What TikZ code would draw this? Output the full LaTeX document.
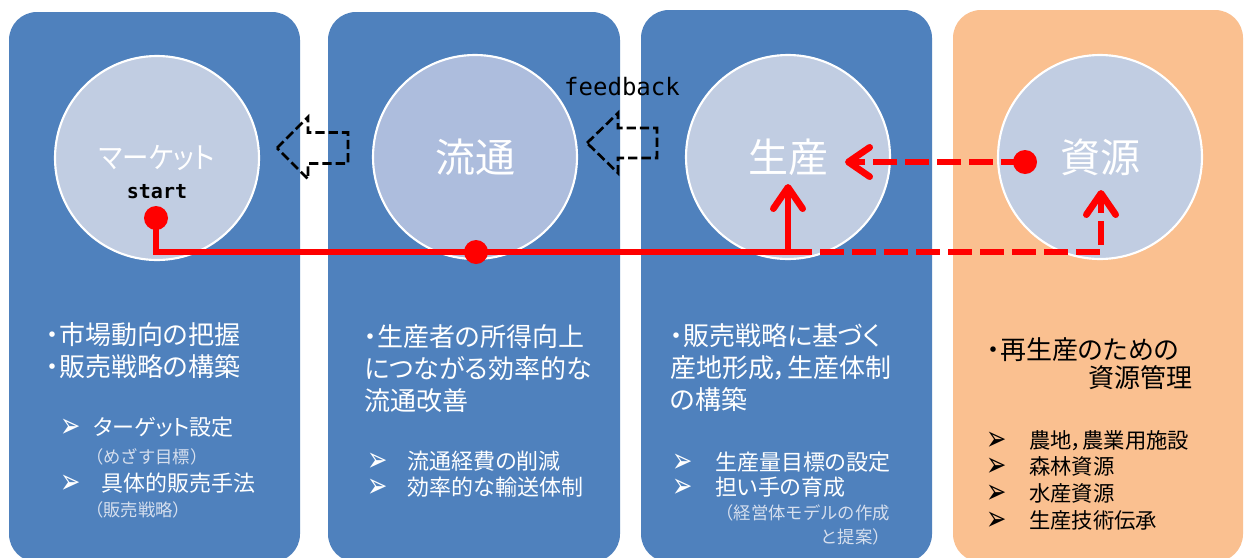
\documentclass[tikz,border=0pt]{standalone}
\usepackage{fontspec}
\usepackage{graphicx}
\setmainfont{Noto Sans CJK JP}[RawFeature={+palt}]
\newfontfamily\jpwide{Noto Sans CJK JP}
\newfontfamily\dingfont{DejaVu Sans}
\newfontfamily\fbmono{DejaVu Sans Mono}
\usepackage{tikz}
\usetikzlibrary{arrows.meta}
\definecolor{panelblue}{RGB}{79,129,189}
\definecolor{panelorange}{RGB}{250,192,144}
\definecolor{circfill}{RGB}{193,205,226}
\definecolor{circdark}{RGB}{173,189,221}
\definecolor{notecol}{RGB}{214,223,238}
\newcommand{\bul}{\smash{\raisebox{-1.5pt}{\scalebox{0.7}[1]{\dingfont\fontsize{26}{26}\selectfont ➢}}}}

\begin{document}
\begin{tikzpicture}[x=0.75pt,y=-0.75pt,
        circ/.style={circle,draw=white,line width=1.6pt,fill=circfill,minimum size=153pt,inner sep=0pt,text=white,font=\fontsize{30}{30}\selectfont},
        dot/.style={circle,fill=red,minimum size=18pt,inner sep=0pt},
        redline/.style={red,line width=5pt},
        reddash/.style={redline,dash pattern=on 18pt off 6pt},
        redtip/.style={-{Straight Barb[length=16pt,width=22pt,round]}},
        hollow/.style={black,line width=2pt,dash pattern=on 7pt off 3pt},
        head/.style={anchor=west,align=left,text=white,inner sep=0pt,font=\fontsize{19.5}{24}\selectfont},
        item/.style={anchor=west,align=left,text=white,inner sep=0pt,font=\fontsize{16.5}{19}\selectfont},
        note/.style={anchor=west,align=left,text=notecol,inner sep=0pt,font=\jpwide\fontsize{13}{18}\selectfont}]

        \useasboundingbox (0,0) rectangle (1244,557);
        \fill[white] (0,0) rectangle (1244,557);

        \fill[panelblue,rounded corners=21pt] (9,12) rectangle (300,562);
        \fill[panelblue,rounded corners=21pt] (328,12) rectangle (620,562);
        \fill[panelblue,rounded corners=21pt] (641,10) rectangle (932,562);
        \fill[panelorange,rounded corners=21pt] (953,10) rectangle (1243,562);

        \node[circ,font=\fontsize{22}{22}\selectfont] (mkt) at (157,158) {\scalebox{0.9}[1]{マーケット}};
        \node[circ,fill=circdark] (ryu) at (475,157) {流通};
        \node[circ] (sei) at (788,157) {生産};
        \node[circ] (shi) at (1100,157) {資源};

        \node[font=\fbmono\bfseries\fontsize{15}{15}\selectfont] (startlbl) at (157,192) {start};
        \node[font=\fbmono\fontsize{18}{18}\selectfont] (fblbl) at (622,87) {feedback};

        \node[dot] (startdot) at (156,218) {};
        \node[dot] (middot) at (476,252) {};
        \node[dot] (shidot) at (1025,162) {};
        \coordinate (seitip) at (788,184);
        \coordinate (shitip) at (1101,190);
        \coordinate (seiend) at (845,162);

        \draw[redline,redtip] (startdot.center) |- (middot.center) -| (seitip);
        \draw[reddash,redtip] (seitip |- middot) -| (shitip);
        \draw[reddash,redtip] (shidot.center) -- (seiend);

        \draw[hollow] (277,148) -- ++(31,-31) -- ++(0,15.5) -- ++(40,0) -- ++(0,31) -- ++(-40,0) -- ++(0,15.5) -- cycle;
        \draw[hollow] (587,143) -- ++(31,-30) -- ++(0,15) -- ++(39,0) -- ++(0,30) -- ++(-39,0) -- ++(0,15) -- cycle;

        \node[head] (mkthead) at (46,351) {・市場動向の把握\\・販売戦略の構築};
        \node[item] (mktitemA) at (60,427) {\bul\hspace{9.5pt}ターゲット設定};
        \node[note] (mktnoteA) at (86,457) {（めざす目標）};
        \node[item] (mktitemB) at (60,483) {\bul\hspace{16pt}具体的販売手法};
        \node[note] (mktnoteB) at (86,510) {（販売戦略）};

        \node[head] (ryuhead) at (364,369) {・生産者の所得向上\\につながる効率的な\\流通改善};
        \node[item] (ryuitems) at (367,474) {\bul\hspace{15pt}流通経費の削減\\\bul\hspace{15pt}効率的な輸送体制};

        \node[head] (seihead) at (670,368) {・販売戦略に基づく\\産地形成，生産体制\\の構築};
        \node[item] (seiitems) at (672,475) {\bul\hspace{17pt}生産量目標の設定\\\bul\hspace{17pt}担い手の育成};
        \node[note,anchor=east,align=right] (seinote) at (890,525) {（経営体モデルの作成\\と提案）};

        \node[head,text=black,font=\fontsize{19.5}{21}\selectfont] (shihead) at (987,364) {・再生産のための\\\hspace{76pt}資源管理};
        \node[item,text=black,font=\fontsize{16}{20}\selectfont] (shiitems) at (986,480) {\bul\hspace{17pt}農地，農業用施設\\\bul\hspace{17pt}森林資源\\\bul\hspace{17pt}水産資源\\\bul\hspace{17pt}生産技術伝承};
\end{tikzpicture}
\end{document}
